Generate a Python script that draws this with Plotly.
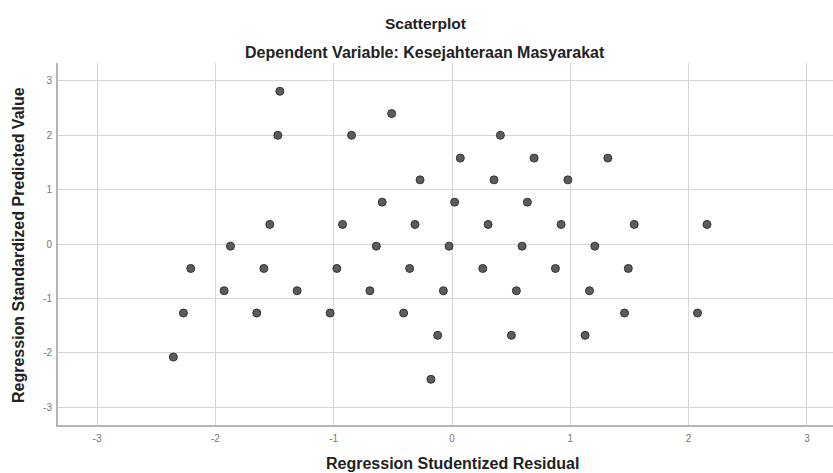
import plotly.graph_objects as go

# Regression Studentized Residual (x) and Regression Standardized Predicted Value (y)
resid = [-1.455, -1.472, -0.51, -0.849, -0.27, -0.59, -1.54, -0.925, -0.313,
         0.409, 0.070, 0.694, 1.317, 0.355, 0.979, 0.022, 0.637, 0.305, 0.922, 1.540, 2.155,
         -1.872, -0.64, -2.208, -1.59, -0.973, -0.358, -1.926, -1.309, -0.694,
         -2.27, -1.65, -1.03, -0.409, -2.355,
         -0.025, 0.592, 1.207, 0.26, 0.874, 1.49, -0.073, 0.544, 1.162,
         1.458, 2.075, -0.121, 0.502, 1.125, -0.178]
pred = [2.81, 2.0, 2.40, 2.0, 1.18, 0.77, 0.36, 0.36, 0.36,
        2.0, 1.58, 1.58, 1.58, 1.18, 1.18, 0.77, 0.77, 0.36, 0.36, 0.36, 0.36,
        -0.04, -0.04, -0.45, -0.45, -0.45, -0.45, -0.86, -0.86, -0.86,
        -1.27, -1.27, -1.27, -1.27, -2.08,
        -0.04, -0.04, -0.04, -0.45, -0.45, -0.45, -0.86, -0.86, -0.86,
        -1.27, -1.27, -1.68, -1.68, -1.68, -2.49]
ticks = [-3, -2, -1, 0, 1, 2, 3]

W, H = 833, 473
# plot area in window pixels: x 58..833, y 63..425
L, R, T, B = 58, 0, 63, 473 - 425
pw, ph = W - L - R, H - T - B

def px(x):
    return (x - L) / pw

def py(y):
    return (T + ph - y) / ph

fig = go.Figure()
fig.add_trace(go.Scatter(
    x=resid, y=pred, mode="markers",
    marker=dict(size=8, color="#5c5c5c", line=dict(color="#333333", width=1)),
    showlegend=False, hoverinfo="skip"))

font = "Liberation Sans, Arial, sans-serif"
axis_common = dict(
    tickvals=ticks, ticktext=[str(t) for t in ticks],
    showgrid=True, gridcolor="#d6d6d6", gridwidth=1.2,
    zeroline=False, showline=True, linecolor="#b5b5b5", linewidth=2,
    ticks="", tickfont=dict(family=font, size=10, color="#777777"),
    fixedrange=True,
)
fig.update_xaxes(range=[-3.33, 3.22], ticklabelstandoff=3, **axis_common)
fig.update_yaxes(range=[-3.33, 3.33], ticklabelstandoff=2, **axis_common)

ann = [
    dict(text="<b>Scatterplot</b>", x=px(425), y=py(23), size=15.5),
    dict(text="<b>Dependent Variable: Kesejahteraan Masyarakat</b>", x=px(425), y=py(52), size=16),
    dict(text="<b>Regression Studentized Residual</b>", x=px(452), y=py(463), size=16),
]
for a in ann:
    fig.add_annotation(text=a["text"], x=a["x"], y=a["y"], xref="paper", yref="paper",
                       xanchor="center", yanchor="middle", showarrow=False,
                       font=dict(family=font, size=a["size"], color="#222222"))
fig.add_annotation(text="<b>Regression Standardized Predicted Value</b>", x=px(19), y=py(245),
                   xref="paper", yref="paper", xanchor="center", yanchor="middle",
                   textangle=-90, showarrow=False,
                   font=dict(family=font, size=16, color="#222222"))

fig.update_layout(
    width=W, height=H,
    margin=dict(l=L, r=R, t=T, b=B),
    paper_bgcolor="white", plot_bgcolor="white",
)
fig.write_html("out.html", config={"displayModeBar": False},
               post_script="document.body.style.margin='0';document.body.style.overflow='hidden';")
